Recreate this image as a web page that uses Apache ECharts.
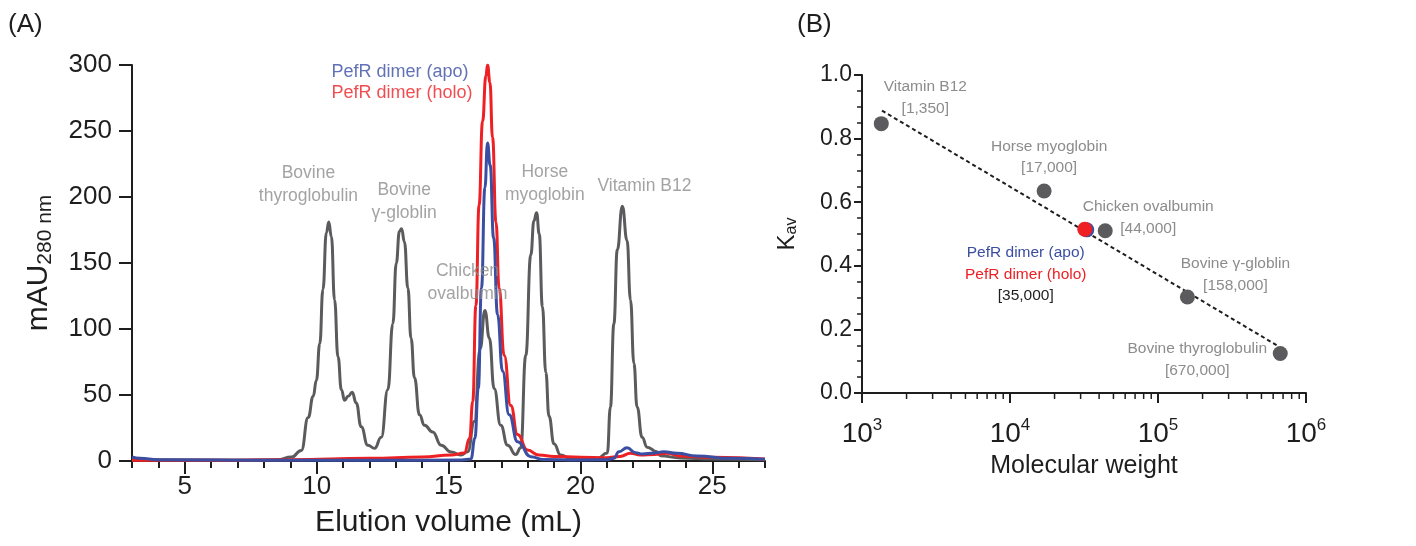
<!DOCTYPE html>
<html>
<head>
<meta charset="utf-8">
<script src="https://cdn.jsdelivr.net/npm/echarts@6/dist/echarts.min.js"></script>
<style>
  html, body { margin: 0; padding: 0; background: #fff; }
  #chart { width: 1416px; height: 546px; }
</style>
</head>
<body>
<div id="chart"></div>
<script>
// (A) elution profiles: [volume mL, mAU280]
var standardTrace = [
  [3, 1], [5, 0.8], [7, 0.6], [8.5, 1], [9.05, 3], [9.42, 8], [9.68, 33], [9.87, 49],
  [9.99, 61], [10.12, 89], [10.24, 130], [10.37, 173], [10.46, 181], [10.56, 170],
  [10.68, 122], [10.81, 79], [10.94, 54], [11.06, 46], [11.19, 49], [11.35, 52],
  [11.5, 44], [11.69, 26], [11.94, 12], [12.2, 9.6], [12.45, 18], [12.7, 54],
  [12.89, 104], [13.02, 150], [13.14, 174], [13.22, 176], [13.33, 166], [13.46, 131],
  [13.58, 93], [13.71, 63], [13.9, 35], [14.09, 27], [14.4, 22], [14.72, 12],
  [15.1, 6.8], [15.47, 4.5], [15.73, 7], [15.98, 30], [16.2, 85], [16.38, 114],
  [16.55, 93], [16.73, 55], [16.98, 27], [17.24, 12], [17.55, 5], [17.74, 10],
  [17.93, 80], [18.12, 156], [18.24, 182], [18.34, 188], [18.44, 172], [18.56, 117],
  [18.69, 67], [18.81, 34], [19.0, 13], [19.25, 4.5], [19.63, 2], [20.64, 2],
  [21.02, 6], [21.14, 41], [21.27, 104], [21.4, 160], [21.59, 193], [21.77, 167],
  [21.9, 122], [22.03, 74], [22.15, 41], [22.34, 18], [22.53, 10.5], [22.9, 7],
  [23.03, 4], [23.79, 2.3], [25, 1.5], [27, 1]
];
var holoTrace = [
  [3, 0.5], [6, 0.5], [9, 1], [12, 2], [14, 3], [15.1, 4.5], [15.6, 6], [15.8, 17],
  [15.92, 45], [16.04, 118], [16.16, 194], [16.29, 257], [16.42, 292], [16.48, 300],
  [16.57, 287], [16.67, 245], [16.8, 181], [16.92, 131], [17.11, 80], [17.36, 42],
  [17.62, 20], [17.99, 8.3], [18.43, 4.5], [19, 3.5], [20, 2.8], [21, 2.5],
  [21.5, 3.5], [21.9, 5.8], [22.28, 4.5], [22.8, 5], [23.28, 5.8], [23.79, 3.8],
  [25.04, 2.8], [27, 1.5]
];
var apoTrace = [
  [3, 3], [3.3, 2], [4, 1], [8, 0.5], [12, 0.5], [15.5, 0.8], [15.85, 1.5], [16.0, 17],
  [16.13, 55], [16.25, 131], [16.38, 207], [16.48, 241], [16.58, 224], [16.71, 169],
  [16.86, 111], [17.05, 68], [17.3, 35], [17.62, 14.6], [18.12, 3.3], [18.6, 1.2],
  [20, 0.8], [21, 1], [21.27, 2], [21.46, 7], [21.77, 10], [22.09, 6.3], [22.34, 5.3],
  [22.8, 6], [23.16, 7], [23.66, 5.8], [24.42, 3.8], [25.68, 2], [27, 1.3]
];
var volumeTicks = [5, 10, 15, 20, 25];
var peakNames = ['Bovine\nthyroglobulin', 'Bovine\nγ-globlin', 'Chicken\novalbumin', 'Horse\nmyoglobin', 'Vitamin B12'];
var peakNameAt = [[9.69, 209.6], [13.32, 196.6], [15.72, 134.9], [18.65, 209.9], [22.43, 208.3]];
var traceNames = ['PefR dimer (apo)', 'PefR dimer (holo)'];
var traceNameAt = [[10.56, 294.7], [10.56, 278.8]];

// (B) calibration
var stdNames = ['Vitamin B12', 'Horse myoglobin', 'Chicken ovalbumin', 'Bovine γ-globlin', 'Bovine thyroglobulin'];
var stdMW = [1350, 17000, 44000, 158000, 670000];
var stdMWText = ['1,350', '17,000', '44,000', '158,000', '670,000'];
var stdKav = [0.847, 0.635, 0.51, 0.302, 0.124];
var apoMW = 33000, apoKav = 0.513;
var holoMW = 32000, holoKav = 0.515;
var pefrMWText = '35,000';
var fitMW = [1365, 651000];
var fitKav = [0.888, 0.147];
var minorMW = [2000, 3000, 4000, 5000, 6000, 7000, 8000, 9000,
  20000, 30000, 40000, 50000, 60000, 70000, 80000, 90000,
  200000, 300000, 400000, 500000, 600000, 700000, 800000, 900000];
var stdLabelOffset = [[44, -26], [5, -34], [43, -13], [48, -22], [-83, 6]];

var FONT = 'Liberation Sans, Arial, sans-serif';
var GRAY = '#5b5b5e';
var LABEL_GRAY = '#8c8c8c';
var RED = '#ee2024';
var BLUE = '#3a4ea2';
var INK = '#1e1e1e';

var chart = echarts.init(document.getElementById('chart'));

var axisLine = { lineStyle: { color: INK, width: 2 } };
var tickStyle = { color: INK, width: 2 };

var option = {
  animation: false,
  textStyle: { fontFamily: FONT },
  graphic: [
    { type: 'text', left: 8, top: 12, style: { text: '(A)', font: '26px ' + FONT, fill: INK } },
    { type: 'text', left: 797, top: 12, style: { text: '(B)', font: '26px ' + FONT, fill: INK } }
  ],
  grid: [
    { left: 132, top: 65, width: 633, height: 396, outerBoundsMode: 'none' },
    { left: 862, top: 75, width: 444, height: 318, outerBoundsMode: 'none' }
  ],
  xAxis: [
    {
      gridIndex: 0, type: 'value', min: 3, max: 27, interval: 1,
      axisLine: axisLine,
      axisTick: { customValues: volumeTicks, length: 13, lineStyle: tickStyle },
      axisLabel: { customValues: volumeTicks, fontSize: 26, color: INK, margin: 13 },
      splitLine: { show: false },
      name: 'Elution volume (mL)', nameLocation: 'middle', nameGap: 47,
      nameTextStyle: { fontSize: 30, color: INK }
    },
    {
      gridIndex: 0, type: 'value', min: 3, max: 27, interval: 1, position: 'bottom',
      axisLine: { show: false },
      axisTick: { length: 7, lineStyle: tickStyle },
      axisLabel: { show: false },
      splitLine: { show: false }
    },
    {
      gridIndex: 1, type: 'log', logBase: 10, min: 1000, max: 1000000,
      axisLine: axisLine,
      axisTick: { length: 10, lineStyle: tickStyle },
      axisLabel: {
        margin: 24, color: INK,
        formatter: function (v) {
          return '{b|10}{e|' + Math.round(Math.log10(v)) + '}';
        },
        rich: {
          b: { fontSize: 28, color: INK },
          e: { fontSize: 17, color: INK, padding: [0, 0, 18, 0] }
        }
      },
      splitLine: { show: false },
      name: 'Molecular weight', nameLocation: 'middle', nameGap: 58,
      nameTextStyle: { fontSize: 25, color: INK }
    }
  ],
  yAxis: [
    {
      gridIndex: 0, type: 'value', min: 0, max: 300, interval: 50,
      axisLine: axisLine,
      axisTick: { length: 13, lineStyle: tickStyle },
      axisLabel: { fontSize: 26, color: INK, margin: 20 },
      splitLine: { show: false },
      name: '{m|mAU}{s|280 nm}', nameLocation: 'middle', nameGap: 76, nameRotate: 90,
      nameTextStyle: {
        color: INK,
        rich: {
          m: { fontSize: 30, color: INK },
          s: { fontSize: 21, color: INK, padding: [14, 0, 0, 0] }
        }
      }
    },
    {
      gridIndex: 1, type: 'value', min: 0, max: 1, interval: 0.2,
      axisLine: axisLine,
      axisTick: { length: 8, lineStyle: tickStyle },
      minorTick: { show: true, splitNumber: 4, length: 5, lineStyle: { color: INK, width: 1.5 } },
      axisLabel: { fontSize: 23, color: INK, margin: 10, formatter: function (v) { return v.toFixed(1); } },
      splitLine: { show: false },
      name: '{k|K}{s|av}', nameLocation: 'middle', nameGap: 62, nameRotate: 90,
      nameTextStyle: {
        color: INK,
        rich: {
          k: { fontSize: 24, color: INK },
          s: { fontSize: 16, color: INK, padding: [10, 0, 0, 0] }
        }
      }
    }
  ],
  series: [
    {
      name: 'standards', type: 'line', xAxisIndex: 0, yAxisIndex: 0,
      data: standardTrace, showSymbol: false, symbol: 'none',
      smooth: 0.5, smoothMonotone: 'x',
      lineStyle: { color: GRAY, width: 3 }, z: 2
    },
    {
      name: traceNames[1], type: 'line', xAxisIndex: 0, yAxisIndex: 0,
      data: holoTrace, showSymbol: false, symbol: 'none',
      smooth: 0.5, smoothMonotone: 'x',
      lineStyle: { color: RED, width: 3 }, z: 3
    },
    {
      name: traceNames[0], type: 'line', xAxisIndex: 0, yAxisIndex: 0,
      data: apoTrace, showSymbol: false, symbol: 'none',
      smooth: 0.5, smoothMonotone: 'x',
      lineStyle: { color: BLUE, width: 3 }, z: 4
    },
    {
      type: 'scatter', xAxisIndex: 0, yAxisIndex: 0, symbolSize: 0, silent: true, z: 10,
      data: peakNames.map(function (n, i) { return { name: n, value: peakNameAt[i] }; }),
      label: {
        show: true, position: [0, 0], align: 'center', verticalAlign: 'middle',
        formatter: '{b}', fontSize: 17.5, lineHeight: 23, color: LABEL_GRAY
      }
    },
    {
      type: 'scatter', xAxisIndex: 0, yAxisIndex: 0, symbolSize: 0, silent: true, z: 10,
      data: traceNames.map(function (n, i) {
        return { name: n, value: traceNameAt[i], label: { color: i === 0 ? BLUE : RED } };
      }),
      label: {
        show: true, position: [0, 0], align: 'left', verticalAlign: 'middle',
        formatter: '{b}', fontSize: 18
      }
    },
    {
      type: 'line', xAxisIndex: 2, yAxisIndex: 1, silent: true,
      data: fitMW.map(function (m, i) { return [m, fitKav[i]]; }),
      symbol: 'none',
      lineStyle: { color: INK, width: 2, type: [4, 3] }, z: 2
    },
    {
      type: 'scatter', xAxisIndex: 2, yAxisIndex: 1, symbolSize: 15, z: 3,
      itemStyle: { color: GRAY, opacity: 1 },
      data: stdMW.map(function (m, i) {
        return { name: stdNames[i], value: [m, stdKav[i]], label: { offset: stdLabelOffset[i] } };
      }),
      label: {
        show: true, position: 'inside', fontSize: 15.5, lineHeight: 21.5, color: LABEL_GRAY,
        formatter: function (p) { return p.name + '\n[' + stdMWText[p.dataIndex] + ']'; }
      }
    },
    {
      type: 'scatter', xAxisIndex: 2, yAxisIndex: 1, symbolSize: 15, z: 4,
      itemStyle: { color: BLUE, opacity: 1 },
      data: [[apoMW, apoKav]]
    },
    {
      type: 'scatter', xAxisIndex: 2, yAxisIndex: 1, symbolSize: 15, z: 5,
      itemStyle: { color: RED, opacity: 1 },
      data: [[holoMW, holoKav]],
      label: {
        show: true, position: 'inside', offset: [-59, 45], lineHeight: 21.5,
        formatter: '{a|' + traceNames[0] + '}\n{h|' + traceNames[1] + '}\n{k|[' + pefrMWText + ']}',
        rich: {
          a: { fontSize: 15.5, lineHeight: 21.5, color: BLUE },
          h: { fontSize: 15.5, lineHeight: 21.5, color: RED },
          k: { fontSize: 15.5, lineHeight: 21.5, color: INK }
        }
      }
    },
    {
      type: 'custom', xAxisIndex: 2, yAxisIndex: 1, silent: true, clip: false, z: 6,
      data: minorMW,
      renderItem: function (params, api) {
        var p = api.coord([api.value(0), 0]);
        return {
          type: 'line',
          shape: { x1: p[0], y1: p[1], x2: p[0], y2: p[1] + 6 },
          style: { stroke: INK, lineWidth: 1.5 }
        };
      }
    }
  ]
};

chart.setOption(option);
window.addEventListener('resize', chart.resize);
</script>
</body>
</html>
